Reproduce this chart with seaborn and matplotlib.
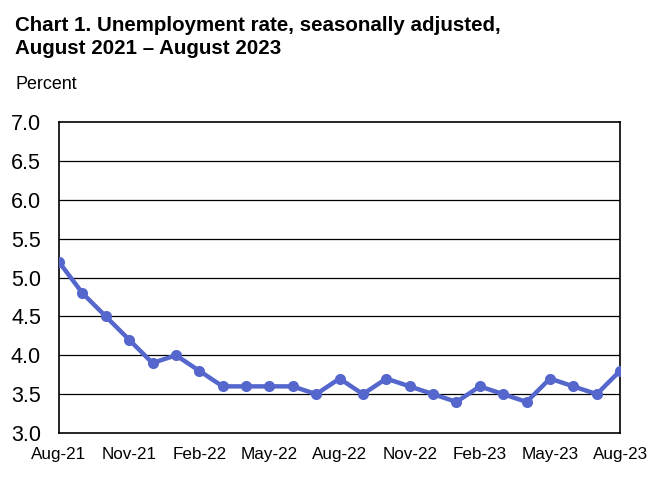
import pandas as pd
import matplotlib.pyplot as plt
import seaborn as sns

months = ['Aug-21', 'Sep-21', 'Oct-21', 'Nov-21', 'Dec-21', 'Jan-22', 'Feb-22',
          'Mar-22', 'Apr-22', 'May-22', 'Jun-22', 'Jul-22', 'Aug-22', 'Sep-22',
          'Oct-22', 'Nov-22', 'Dec-22', 'Jan-23', 'Feb-23', 'Mar-23', 'Apr-23',
          'May-23', 'Jun-23', 'Jul-23', 'Aug-23']
rate = [5.2, 4.8, 4.5, 4.2, 3.9, 4.0, 3.8, 3.6, 3.6, 3.6, 3.6, 3.5, 3.7, 3.5,
        3.7, 3.6, 3.5, 3.4, 3.6, 3.5, 3.4, 3.7, 3.6, 3.5, 3.8]
yticks = [3.0, 3.5, 4.0, 4.5, 5.0, 5.5, 6.0, 6.5, 7.0]

df = pd.DataFrame({'pos': range(len(months)), 'month': months, 'rate': rate})

sns.set_style('white')
plt.rcParams['font.family'] = ['Liberation Sans', 'DejaVu Sans']
plt.rcParams['text.color'] = 'black'
plt.rcParams['xtick.color'] = 'black'
plt.rcParams['ytick.color'] = 'black'

fig = plt.figure(figsize=(6.54, 4.86), dpi=100)
ax = fig.add_axes([0.0902, 0.109, 0.858, 0.640])

# horizontal gridlines
for y in yticks[1:-1]:
    ax.axhline(y, color='black', linewidth=0.9, zorder=1)

sns.lineplot(data=df, x='pos', y='rate', ax=ax, color='#5566cc', linewidth=3.2,
             marker='o', markersize=8, markeredgewidth=0, zorder=3)

ax.set_xlim(0, len(months) - 1)
ax.set_ylim(3.0, 7.0)
ax.set_yticks(yticks)
ax.set_yticklabels([f'{v:.1f}' for v in yticks], fontsize=15.5)
major = list(range(0, len(months), 3))
ax.set_xticks(major)
ax.set_xticklabels([months[i] for i in major], fontsize=12.3)
ax.set_xticks(range(len(months)), minor=True)
ax.tick_params(axis='x', which='major', direction='in', length=5, width=1, pad=10)
ax.tick_params(axis='x', which='minor', direction='in', length=3, width=1)
ax.tick_params(axis='y', length=0, pad=13)
ax.set_xlabel('')
ax.set_ylabel('')
for s in ax.spines.values():
    s.set_color('black')
    s.set_linewidth(1.2)

fig.text(0.023, 0.967, 'Chart 1. Unemployment rate, seasonally adjusted,\nAugust 2021 \u2013 August 2023',
         fontsize=14.8, fontweight='bold', va='top', ha='left', linespacing=1.25)
fig.text(0.023, 0.827, 'Percent', fontsize=12.9, va='center', ha='left')

fig.savefig('out.png', dpi=100)
